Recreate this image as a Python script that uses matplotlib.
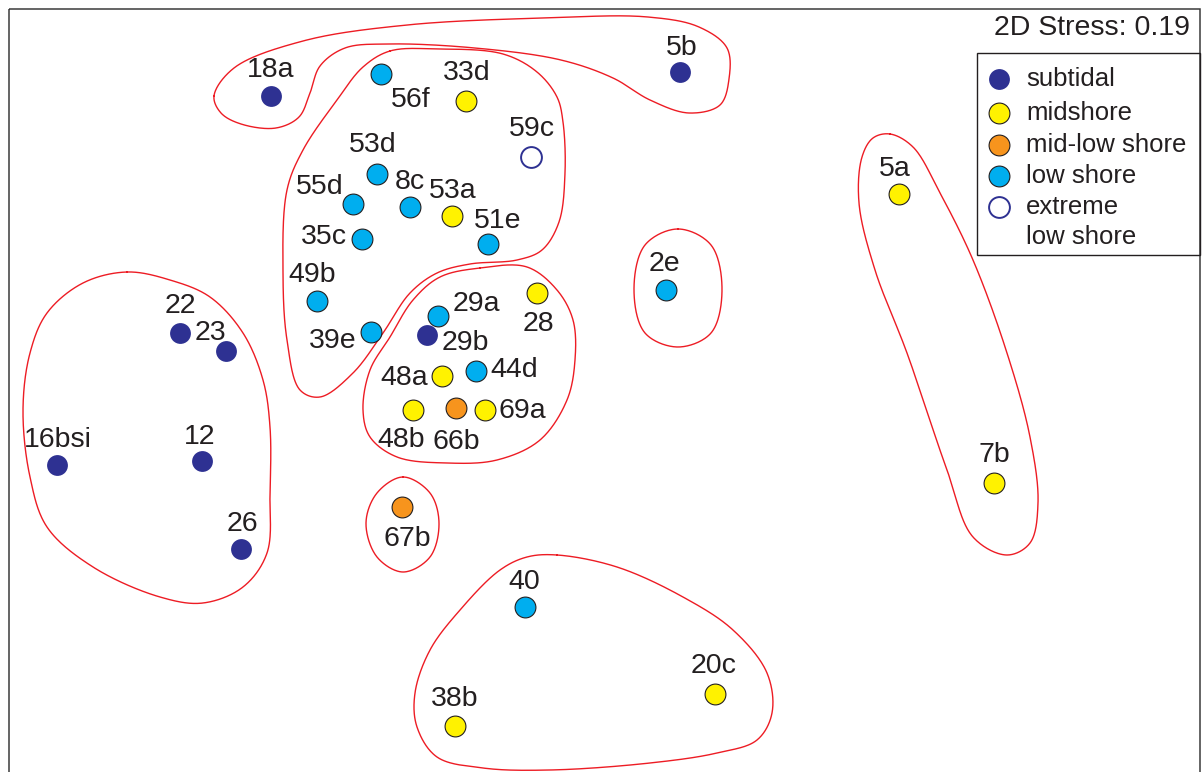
import numpy as np
import matplotlib
matplotlib.use("Agg")
import matplotlib.pyplot as plt
from matplotlib.patches import Rectangle

plt.rcParams['font.family'] = ['Liberation Sans', 'DejaVu Sans']

# ---- data (MDS ordination positions) ----
labels = ["18a", "5b", "56f", "33d", "59c", "53d", "55d", "8c", "53a", "51e",
          "35c", "49b", "39e", "29a", "29b", "28", "48a", "44d", "48b", "66b",
          "69a", "2e", "5a", "7b", "22", "23", "16bsi", "12", "26", "67b",
          "40", "20c", "38b"]
x_mds = [271, 680, 381, 466, 531, 377, 353, 410, 452, 488,
         362, 317, 371, 438, 427, 537, 442, 476, 413, 456,
         485, 666, 899, 994, 180, 226, 57, 202, 241, 402,
         525, 715, 455]
y_mds = [96, 72, 74, 101, 157, 174, 204, 207, 216, 244,
         239, 301, 332, 316, 335, 293, 376, 371, 410, 408,
         410, 290, 194, 483, 333, 351, 465, 461, 549, 507,
         607, 694, 726]
zone = ["subtidal", "subtidal", "low shore", "midshore", "extreme low shore",
        "low shore", "low shore", "low shore", "midshore", "low shore",
        "low shore", "low shore", "low shore", "low shore", "subtidal",
        "midshore", "midshore", "low shore", "midshore", "mid-low shore",
        "midshore", "low shore", "midshore", "midshore", "subtidal",
        "subtidal", "subtidal", "subtidal", "subtidal", "mid-low shore",
        "low shore", "midshore", "midshore"]
zones = ["subtidal", "midshore", "mid-low shore", "low shore", "extreme low shore"]
legend_text = ["subtidal", "midshore", "mid-low shore", "low shore", "extreme\nlow shore"]
stress = 0.19

# cluster outlines (points along each red boundary)
hull_A = [(214, 96), (234, 68), (303, 41), (407, 25), (544, 18), (648, 17), (699, 27),
          (727, 48), (729, 79), (720, 105), (689, 113), (650, 100), (613, 78), (561, 60),
          (475, 48), (389, 44), (345, 48), (320, 66), (310, 93), (299, 117), (276, 128),
          (241, 124), (221, 113)]
hull_B = [(390, 51), (437, 49), (503, 54), (537, 72), (557, 97), (563, 122), (565, 173),
          (559, 222), (542, 250), (517, 260), (470, 264), (437, 273), (410, 293),
          (383, 333), (353, 373), (320, 397), (300, 390), (287, 340), (283, 273),
          (287, 190), (303, 150), (337, 100), (363, 67)]
hull_C = [(480, 268), (527, 267), (557, 290), (573, 320), (575, 360), (567, 400),
          (540, 440), (497, 460), (447, 463), (397, 457), (370, 437), (363, 410),
          (370, 370), (390, 337), (413, 300), (440, 277)]
hull_D = [(127, 272), (170, 280), (210, 297), (243, 333), (263, 380), (270, 427),
          (270, 493), (267, 553), (243, 587), (203, 603), (160, 597), (93, 567),
          (47, 527), (30, 477), (23, 410), (30, 353), (47, 313), (83, 283)]
hull_E = [(890, 134), (913, 147), (940, 193), (973, 260), (1007, 353), (1030, 437),
          (1038, 503), (1030, 543), (1007, 555), (973, 537), (947, 470), (907, 353),
          (875, 270), (859, 203), (862, 157), (873, 138)]
hull_F = [(403, 477), (430, 493), (439, 523), (430, 557), (403, 572), (377, 557),
          (366, 523), (377, 493)]
hull_G = [(557, 555), (617, 567), (683, 597), (733, 630), (767, 673), (772, 713),
          (757, 740), (717, 753), (650, 763), (550, 770), (483, 768), (437, 757),
          (417, 727), (415, 693), (430, 650), (460, 610), (500, 570), (527, 557)]
hull_H = [(678, 229), (711, 245), (722, 290), (711, 333), (678, 347), (645, 333),
          (634, 290), (645, 245)]
hulls = [hull_A, hull_B, hull_C, hull_D, hull_E, hull_F, hull_G, hull_H]

# ---- styles / layout ----
face = {"subtidal": "#2E3192", "midshore": "#FFF200", "mid-low shore": "#F7941D",
        "low shore": "#00AEEF", "extreme low shore": "white"}
edge = {"subtidal": "#2E3192", "midshore": "#231F20", "mid-low shore": "#231F20",
        "low shore": "#231F20", "extreme low shore": "#2E3192"}
elw = {"subtidal": 0.0, "midshore": 0.8, "mid-low shore": 0.8,
       "low shore": 0.8, "extreme low shore": 1.4}
label_off = {"18a": (0, -29), "5b": (2, -27), "56f": (30, 23), "33d": (1, -31),
             "59c": (1, -31), "53d": (-4, -32), "55d": (-33, -20), "8c": (0, -28),
             "53a": (1, -28), "51e": (10, -26), "35c": (-38, -5), "49b": (-5, -29),
             "39e": (-38, 6), "29a": (38, -15), "29b": (38, 5), "28": (1, 28),
             "48a": (-38, -1), "44d": (38, -4), "48b": (-12, 27), "66b": (0, 31),
             "69a": (37, -2), "2e": (-2, -29), "5a": (-4, -28), "7b": (0, -31),
             "22": (0, -30), "23": (-16, -21), "16bsi": (1, -28), "12": (-2, -27),
             "26": (1, -28), "67b": (5, 29), "40": (-1, -28), "20c": (-1, -31),
             "38b": (0, -30)}
TXT = "#231F20"
RED = "#ED1C24"


def closed_spline(pts, n=30, alpha=0.5):
    """Centripetal Catmull-Rom closed curve through the given outline points."""
    P = np.asarray(pts, float)
    N = len(P)
    segs = []
    for i in range(N):
        p0, p1, p2, p3 = P[i - 1], P[i], P[(i + 1) % N], P[(i + 2) % N]
        t0 = 0.0
        t1 = t0 + np.linalg.norm(p1 - p0) ** alpha
        t2 = t1 + np.linalg.norm(p2 - p1) ** alpha
        t3 = t2 + np.linalg.norm(p3 - p2) ** alpha
        t = np.linspace(t1, t2, n, endpoint=False)[:, None]
        A1 = (t1 - t) / (t1 - t0) * p0 + (t - t0) / (t1 - t0) * p1
        A2 = (t2 - t) / (t2 - t1) * p1 + (t - t1) / (t2 - t1) * p2
        A3 = (t3 - t) / (t3 - t2) * p2 + (t - t2) / (t3 - t2) * p3
        B1 = (t2 - t) / (t2 - t0) * A1 + (t - t0) / (t2 - t0) * A2
        B2 = (t3 - t) / (t3 - t1) * A2 + (t - t1) / (t3 - t1) * A3
        C = (t2 - t) / (t2 - t1) * B1 + (t - t1) / (t2 - t1) * B2
        segs.append(C)
    out = np.vstack(segs)
    return np.vstack([out, out[:1]])


fig = plt.figure(figsize=(12.02, 7.72), dpi=100)
ax = fig.add_axes([0, 0, 1, 1])
ax.set_xlim(0, 1202)
ax.set_ylim(772, 0)
ax.axis("off")

# frame
ax.add_patch(Rectangle((8.5, 8.5), 1191, 820, fill=False, ec="#3a3a3a", lw=1.1,
                       clip_on=False, zorder=1))

for h in hulls:
    c = closed_spline(h)
    ax.plot(c[:, 0], c[:, 1], color=RED, lw=1.0, zorder=2)

X = np.array(x_mds, float)
Y = np.array(y_mds, float)
Z = np.array(zone)
for z in zones:
    m = Z == z
    ax.scatter(X[m], Y[m], s=225, c=face[z], edgecolors=edge[z], linewidths=elw[z], zorder=3)

for lab, xx, yy in zip(labels, x_mds, y_mds):
    dx, dy = label_off[lab]
    ax.text(xx + dx, yy + dy + 10, lab, ha="center", va="baseline",
            fontsize=20.5, color=TXT, zorder=4)

ax.text(1190, 35, f"2D Stress: {stress:.2f}", ha="right", va="baseline",
        fontsize=20.5, color=TXT)

# legend
ax.add_patch(Rectangle((977, 53), 223, 202, fill=False, ec=TXT, lw=1.0, zorder=4))
row_y = [79, 113, 145, 176, 207]
for z, txt, ry in zip(zones, legend_text, row_y):
    ax.scatter([999], [ry], s=225, c=face[z], edgecolors=edge[z], linewidths=elw[z], zorder=5)
    lines = txt.split("\n")
    for k, ln in enumerate(lines):
        ax.text(1026, ry + 7 + 30 * k, ln, ha="left", va="baseline",
                fontsize=18.5, color=TXT, zorder=5)

fig.savefig("out.png", dpi=100)
